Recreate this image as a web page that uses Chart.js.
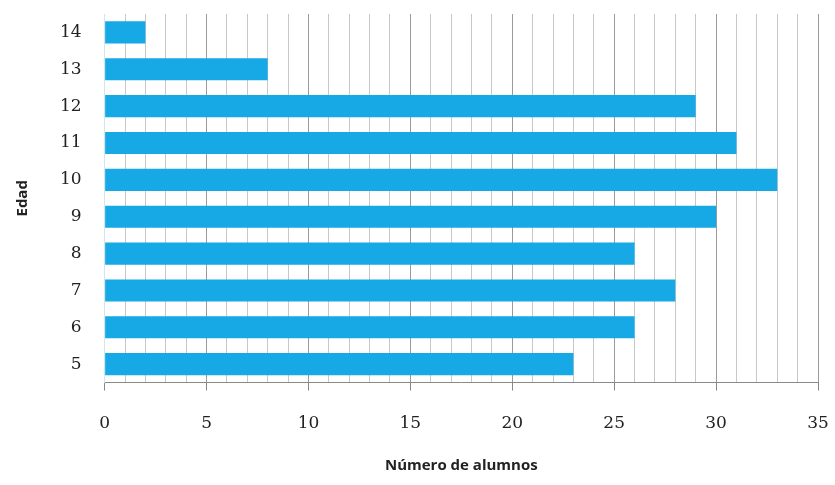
<!DOCTYPE html>
<html>
<head>
<meta charset="utf-8">
<title>Edad</title>
<script src="https://cdn.jsdelivr.net/npm/chart.js"></script>
<style>
  html, body { margin: 0; padding: 0; background: #fff; }
  .wrap { width: 835px; height: 485px; }
</style>
</head>
<body>
<div class="wrap"><canvas id="edadChart" width="835" height="485"></canvas></div>
<script>
const edades = ['5', '6', '7', '8', '9', '10', '11', '12', '13', '14'];
const alumnos = [23, 26, 28, 26, 30, 33, 31, 29, 8, 2];
const xMax = 35;

// keep the outer margins under layout.padding control
function noSidePad(scale) {
  scale.paddingLeft = 0;
  scale.paddingRight = 0;
  scale.paddingTop = 0;
  scale.paddingBottom = 0;
}

const ctx = document.getElementById('edadChart');
new Chart(ctx, {
  type: 'bar',
  data: {
    labels: edades,
    datasets: [{
      label: 'Número de alumnos',
      data: alumnos,
      backgroundColor: '#16a9e6',
      borderWidth: 0,
      categoryPercentage: 1,
      barPercentage: 0.6
    }]
  },
  options: {
    indexAxis: 'y',
    responsive: false,
    animation: false,
    layout: { padding: { left: 14, right: 17, top: 14, bottom: 10 } },
    plugins: {
      legend: { display: false },
      tooltip: { enabled: false }
    },
    scales: {
      x: {
        min: 0,
        max: xMax,
        afterFit: noSidePad,
        ticks: {
          stepSize: 1,
          autoSkip: false,
          maxRotation: 0,
          color: '#222',
          font: { family: 'DejaVu Serif', size: 17 },
          padding: 23,
          callback: v => (v % 5 === 0 ? v : '')
        },
        grid: {
          color: c => (c.tick && c.tick.value % 5 === 0 ? '#9a9a9a' : '#c8c8c8'),
          tickColor: c => (c.tick && c.tick.value % 5 === 0 ? '#888' : 'rgba(0,0,0,0)'),
          tickLength: 8,
          lineWidth: 1
        },
        border: { color: '#888', width: 1 },
        title: {
          display: true,
          text: 'Número de alumnos',
          color: '#222',
          font: { family: 'Open Sans', size: 15, weight: 'bold' },
          padding: { top: 0, bottom: 0 }
        }
      },
      y: {
        reverse: true,
        afterFit: noSidePad,
        ticks: {
          color: '#222',
          font: { family: 'DejaVu Serif', size: 17 },
          padding: 2
        },
        grid: {
          display: true,
          drawOnChartArea: false,
          drawTicks: true,
          tickLength: 21,
          tickColor: 'rgba(0,0,0,0)'
        },
        border: { color: '#cfe6f0', width: 1 },
        title: {
          display: true,
          text: 'Edad',
          color: '#222',
          font: { family: 'Open Sans', size: 15, weight: 'bold' },
          padding: { top: 0, bottom: 26 }
        }
      }
    }
  }
});
</script>
</body>
</html>
